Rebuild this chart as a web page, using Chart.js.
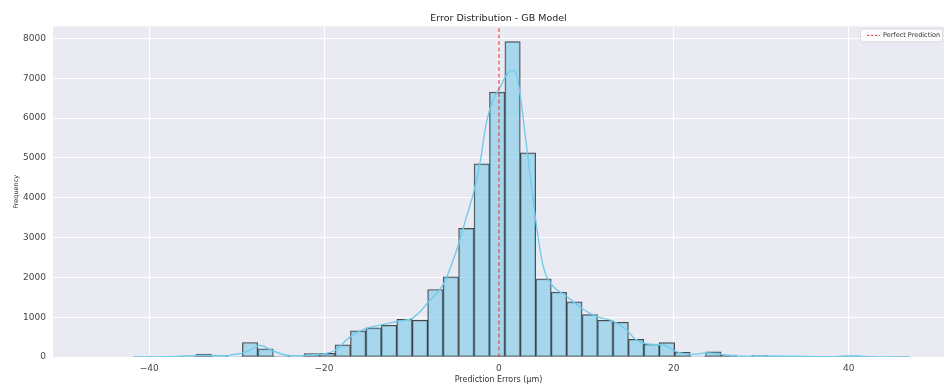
<!DOCTYPE html>
<html>
<head>
<meta charset="utf-8">
<script src="https://cdn.jsdelivr.net/npm/chart.js@4/dist/chart.umd.min.js"></script>
<style>
  html, body { margin: 0; padding: 0; background: #ffffff; }
  #wrap { width: 945px; height: 387px; }
</style>
</head>
<body>
<div id="wrap"><canvas id="c" width="945" height="387"></canvas></div>
<script>
// ---- Data ----
const chartTitle = 'Error Distribution - GB Model';
const xLabel = 'Prediction Errors (µm)';
const yLabel = 'Frequency';
const legendLabel = 'Perfect Prediction';

// histogram bin centres (µm)
const binCenters = [-40.82, -39.05, -37.29, -35.52, -33.76, -31.99, -30.22, -28.46, -26.69, -24.93,
  -23.16, -21.39, -19.63, -17.86, -16.10, -14.33, -12.56, -10.80, -9.03, -7.27,
  -5.50, -3.73, -1.97, -0.20, 1.56, 3.33, 5.10, 6.86, 8.63, 10.39,
  12.16, 13.93, 15.69, 17.46, 19.22, 20.99, 22.76, 24.52, 26.29, 28.05,
  29.82, 31.59, 33.35, 35.12, 36.88, 38.65, 40.42, 42.18, 43.95, 45.71];
// histogram counts
const binCounts = [5, 8, 10, 25, 72, 30, 17, 365, 205, 25,
  25, 88, 90, 305, 654, 730, 797, 948, 922, 1694,
  2013, 3228, 4850, 6650, 7916, 5124, 1962, 1627, 1384, 1065,
  922, 872, 444, 319, 360, 120, 20, 130, 48, 17,
  42, 25, 17, 8, 8, 8, 32, 3, 0, 2];

// KDE curve points
const kdeX = [-41.8, -38.2, -35.0, -33.6, -31.3, -30.2, -29.4, -28.3, -27.3, -25.8,
  -24.1, -22.5, -21.4, -19.9, -18.7, -17.0, -15.2, -13.5, -11.7, -9.9,
  -9.0, -8.2, -6.4, -4.7, -3.7, -2.9, -2.2, -1.4, -0.65, 0.1,
  0.9, 1.45, 1.83, 2.4, 2.97, 3.54, 4.1, 4.7, 5.07, 5.45,
  6.2, 7.7, 9.45, 11.2, 13.0, 14.6, 15.7, 17.3, 18.8, 20.3,
  21.0, 22.2, 23.7, 25.4, 27.5, 29.8, 33.6, 37.5, 40.1, 43.2, 47.0];
const kdeY = [0, 8, 35, 42, 30, 70, 90, 190, 290, 150,
  40, 35, 50, 84, 170, 510, 720, 805, 890, 975,
  1140, 1350, 1810, 2775, 3530, 4125, 4830, 5920, 6465, 6760,
  7094, 7195, 7178, 6634, 5627, 4620, 3615, 2692, 2272, 2020,
  1769, 1530, 1224, 1014, 906, 679, 428, 319, 302, 134,
  92, 67, 100, 67, 17, 25, 17, 8, 25, 2, 0];

// reference line position and axis ranges / ticks
const perfectX = 0;
const xMin = -51, xMax = 50.9;
const yMin = 0, yMax = 8300;
const xTicks = [-40, -20, 0, 20, 40];
const yTicks = [0, 1000, 2000, 3000, 4000, 5000, 6000, 7000, 8000];

// ---- Chart ----
const FONT = 'DejaVu Sans';

const bgPlugin = {
  id: 'bg',
  beforeDraw(chart) {
    const { ctx, chartArea: a } = chart;
    ctx.save();
    ctx.fillStyle = '#EAEAF2';
    ctx.fillRect(a.left, a.top, a.right - a.left, a.bottom - a.top);
    ctx.restore();
  }
};

const legendPlugin = {
  id: 'boxLegend',
  afterDraw(chart) {
    const { ctx, chartArea: a } = chart;
    const w = 82, h = 13;
    const x = a.right - w - 2, y = a.top + 2;
    ctx.save();
    ctx.fillStyle = 'rgba(255,255,255,0.8)';
    ctx.strokeStyle = '#d4d4d8';
    ctx.lineWidth = 0.8;
    ctx.beginPath();
    if (ctx.roundRect) ctx.roundRect(x + 0.5, y + 0.5, w, h, 2); else ctx.rect(x + 0.5, y + 0.5, w, h);
    ctx.fill();
    ctx.stroke();
    ctx.strokeStyle = '#e33b3b';
    ctx.lineWidth = 1;
    ctx.setLineDash([2.5, 1.5]);
    ctx.beginPath();
    ctx.moveTo(x + 7, y + h / 2 + 0.5);
    ctx.lineTo(x + 20, y + h / 2 + 0.5);
    ctx.stroke();
    ctx.setLineDash([]);
    ctx.fillStyle = '#333333';
    ctx.font = '6.5px "' + FONT + '"';
    ctx.textBaseline = 'middle';
    ctx.textAlign = 'left';
    ctx.fillText(legendLabel, x + 23, y + h / 2 + 0.5);
    ctx.restore();
  }
};

new Chart(document.getElementById('c'), {
  type: 'bar',
  data: {
    datasets: [
      {
        type: 'line',
        label: legendLabel,
        data: [{ x: perfectX, y: yMin }, { x: perfectX, y: yMax }],
        borderColor: '#e33b3b',
        borderWidth: 1.1,
        borderDash: [4, 2.5],
        pointRadius: 0,
        order: 1
      },
      {
        type: 'line',
        label: 'KDE',
        data: kdeX.map((x, i) => ({ x: x, y: kdeY[i] })),
        borderColor: '#72cbea',
        borderWidth: 1.4,
        pointRadius: 0,
        cubicInterpolationMode: 'monotone',
        order: 2
      },
      {
        type: 'bar',
        label: 'Counts',
        data: binCenters.map((x, i) => ({ x: x, y: binCounts[i] })),
        backgroundColor: 'rgba(135,206,235,0.68)',
        borderColor: 'rgba(35,38,42,0.82)',
        borderWidth: 1,
        borderSkipped: false,
        barPercentage: 1,
        categoryPercentage: 1,
        grouped: false,
        order: 3
      }
    ]
  },
  options: {
    responsive: false,
    animation: false,
    devicePixelRatio: 1,
    layout: { padding: { left: 0, right: 1, top: 0, bottom: 0 } },
    scales: {
      x: {
        type: 'linear',
        offset: false,
        min: xMin,
        max: xMax,
        afterBuildTicks: s => { s.ticks = xTicks.map(v => ({ value: v })); },
        afterFit: s => { s.height = 30; },
        grid: { color: '#ffffff', lineWidth: 1, drawTicks: false, offset: false },
        border: { display: false },
        ticks: {
          color: '#444444',
          padding: 6,
          font: { family: FONT, size: 9 },
          callback: v => (v < 0 ? '\u2212' + Math.abs(v) : String(v))
        },
        title: {
          display: true,
          text: xLabel,
          color: '#333333',
          font: { family: FONT, size: 8 },
          padding: { top: 0, bottom: 2 }
        }
      },
      y: {
        type: 'linear',
        min: yMin,
        max: yMax,
        afterBuildTicks: s => { s.ticks = yTicks.map(v => ({ value: v })); },
        afterFit: s => { s.width = 53; },
        grid: { color: '#ffffff', lineWidth: 1, drawTicks: false },
        border: { display: false },
        ticks: {
          color: '#444444',
          padding: 7,
          font: { family: FONT, size: 9 },
          callback: v => String(v)
        },
        title: {
          display: true,
          text: yLabel,
          color: '#333333',
          font: { family: FONT, size: 6.5 },
          padding: { top: 12, bottom: 0 }
        }
      }
    },
    plugins: {
      legend: { display: false },
      tooltip: { enabled: false },
      title: {
        display: true,
        fullSize: false,
        text: chartTitle,
        color: '#222222',
        font: { family: FONT, size: 9.5, weight: 'normal' },
        padding: { top: 13, bottom: 2 }
      }
    }
  },
  plugins: [bgPlugin, legendPlugin]
});
</script>
</body>
</html>
